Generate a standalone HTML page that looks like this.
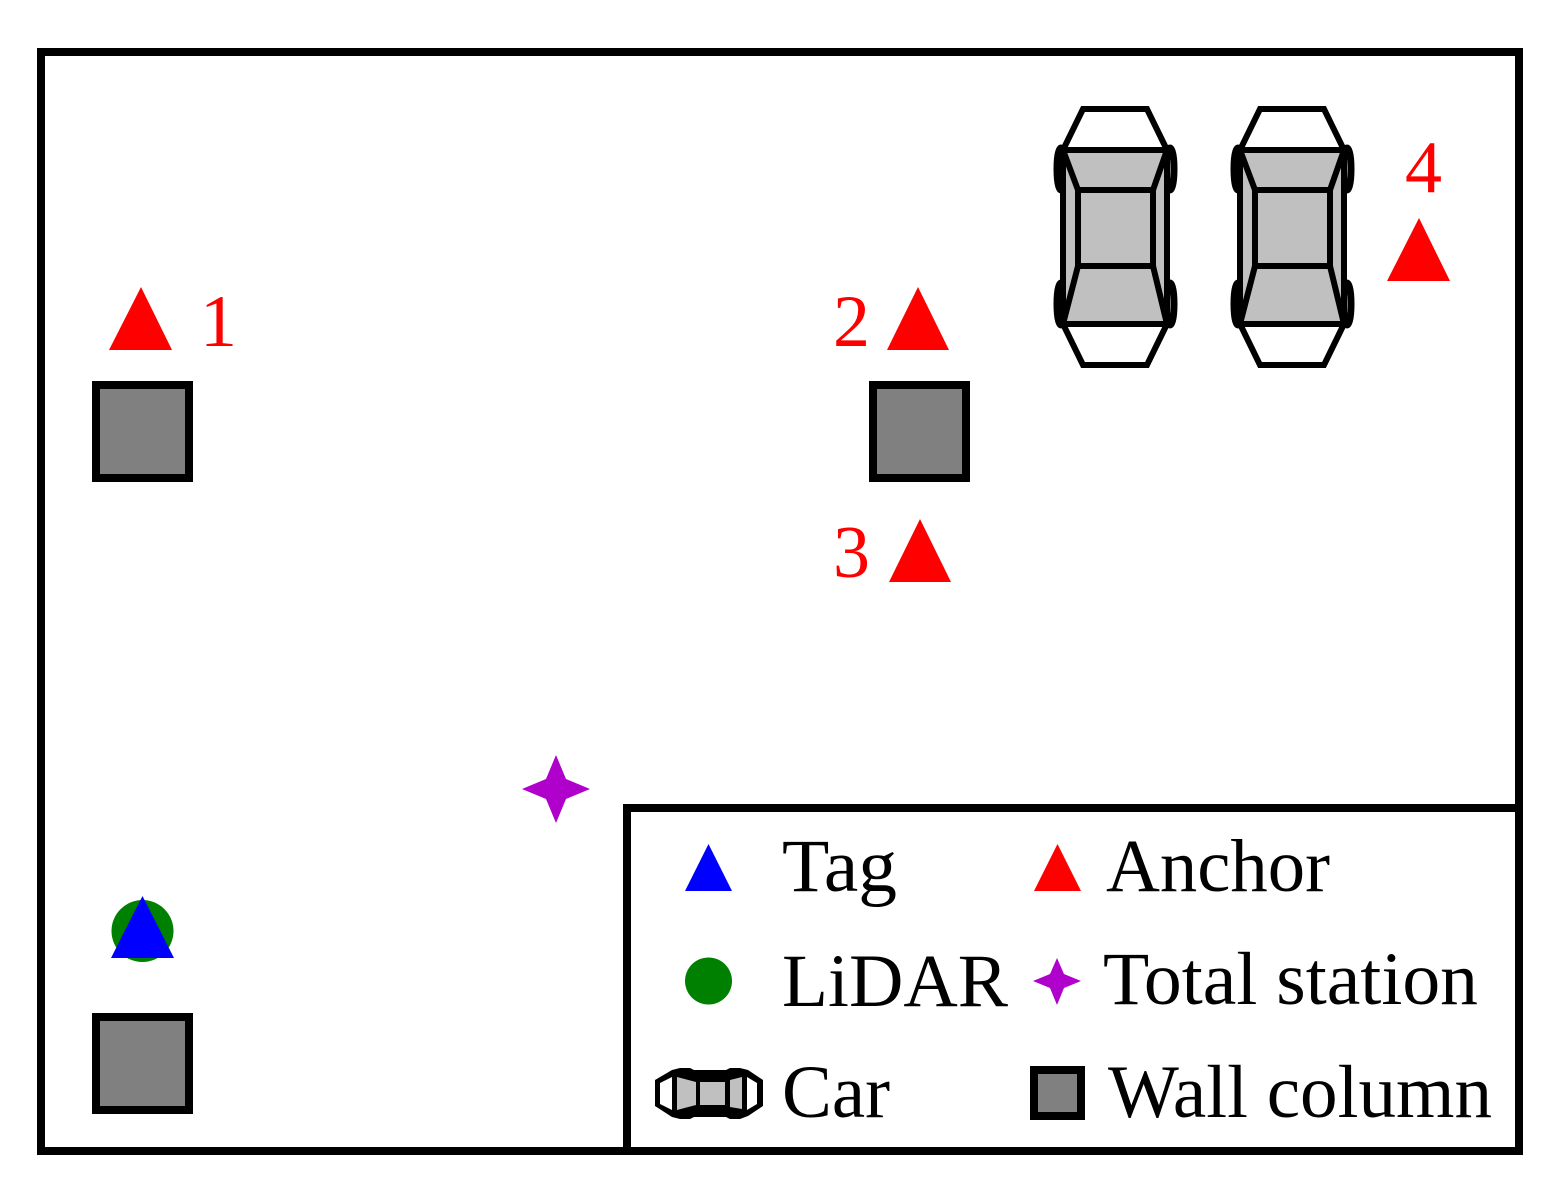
<!DOCTYPE html>
<html>
<head>
<meta charset="utf-8">
<style>
html,body{margin:0;padding:0;background:#fff;width:1549px;height:1192px;overflow:hidden}
svg{display:block}
text{font-family:"Liberation Serif",serif;font-size:75px}
.n{fill:#f00;font-size:74px}
</style>
</head>
<body>
<svg width="1549" height="1192" viewBox="0 0 1549 1192" xmlns="http://www.w3.org/2000/svg">
<defs>
<g id="car" stroke="#000" stroke-width="6" stroke-linejoin="miter">
  <ellipse cx="-54" cy="-68" rx="4" ry="21" fill="#fff" stroke-width="7"/>
  <ellipse cx="55" cy="-68" rx="4" ry="21" fill="#fff" stroke-width="7"/>
  <ellipse cx="-54" cy="67" rx="4" ry="21" fill="#fff" stroke-width="7"/>
  <ellipse cx="55" cy="67" rx="4" ry="21" fill="#fff" stroke-width="7"/>
  <polygon points="-32,-128 32,-128 52,-87 52,87 32,128 -32,128 -52,87 -52,-87" fill="#fff"/>
  <rect x="-52" y="-87" width="104" height="174" fill="#c0c0c0"/>
  <rect x="-37" y="-47" width="75" height="76" fill="#c0c0c0"/>
  <path d="M-52,-87 L-37,-47 M52,-87 L38,-47 M-52,87 L-37,29 M52,87 L38,29" fill="none"/>
</g>
</defs>

<rect x="41" y="52" width="1478" height="1099" fill="#fff" stroke="#000" stroke-width="8"/>

<polygon points="141,287 172,350 109,350" fill="#f00"/>
<polygon points="918,287 949,350 887,350" fill="#f00"/>
<polygon points="920,519 951,582 889,582" fill="#f00"/>
<polygon points="1419,218 1450,281 1387,281" fill="#f00"/>
<text class="n" x="200" y="346">1</text>
<text class="n" x="833" y="346">2</text>
<text class="n" x="833" y="577">3</text>
<text class="n" x="1405" y="192">4</text>

<rect x="96" y="385" width="93" height="93" fill="#808080" stroke="#000" stroke-width="8"/>
<rect x="873" y="385" width="93" height="93" fill="#808080" stroke="#000" stroke-width="8"/>
<rect x="96" y="1017" width="93" height="93" fill="#808080" stroke="#000" stroke-width="8"/>

<use href="#car" transform="translate(1115,237)"/>
<use href="#car" transform="translate(1292,237)"/>

<polygon points="556,755 566,779 590,789 566,799 556,823 546,799 522,789 546,779" fill="#b000cc"/>

<circle cx="142.500" cy="931" r="31" fill="#008000"/>
<polygon points="142.500,896 174,958 111,958" fill="#00f"/>

<rect x="627" y="808" width="892" height="343" fill="#fff" stroke="#000" stroke-width="8"/>

<polygon points="708.500,844 732,891 685,891" fill="#00f"/>
<polygon points="1057.500,844 1081,891 1034,891" fill="#f00"/>
<circle cx="708.500" cy="981" r="23.500" fill="#008000"/>
<polygon points="1057,958 1064,974 1081,981 1064,988 1057,1005 1050,988 1033,981 1050,974" fill="#b000cc"/>

<polygon points="655,1080 672,1070 680,1068 690,1068 694,1070 726,1070 730,1068 740,1068 748,1070 763,1080 763,1106 748,1116 740,1119 730,1119 726,1117 694,1117 690,1119 680,1119 672,1117 655,1106" fill="#000"/>
<polygon points="660,1083 672,1077 672,1110 660,1104" fill="#fff"/>
<polygon points="747,1077 757,1083 757,1104 747,1110" fill="#fff"/>
<polygon points="677,1077 696,1082 696,1105 677,1110" fill="#c0c0c0"/>
<rect x="700" y="1082" width="25" height="23" fill="#c0c0c0"/>
<polygon points="730,1080 742,1077 742,1109 730,1107" fill="#c0c0c0"/>

<rect x="1034" y="1070" width="47" height="46" fill="#808080" stroke="#000" stroke-width="8"/>

<text x="782" y="891" textLength="115" lengthAdjust="spacingAndGlyphs">Tag</text>
<text x="1106" y="891" textLength="224" lengthAdjust="spacingAndGlyphs">Anchor</text>
<text x="782" y="1006" textLength="226" lengthAdjust="spacingAndGlyphs">LiDAR</text>
<text x="1103" y="1004" textLength="375" lengthAdjust="spacingAndGlyphs">Total station</text>
<text x="782" y="1117" textLength="108" lengthAdjust="spacingAndGlyphs">Car</text>
<text x="1108" y="1117" textLength="384" lengthAdjust="spacingAndGlyphs">Wall column</text>
</svg>
</body>
</html>
